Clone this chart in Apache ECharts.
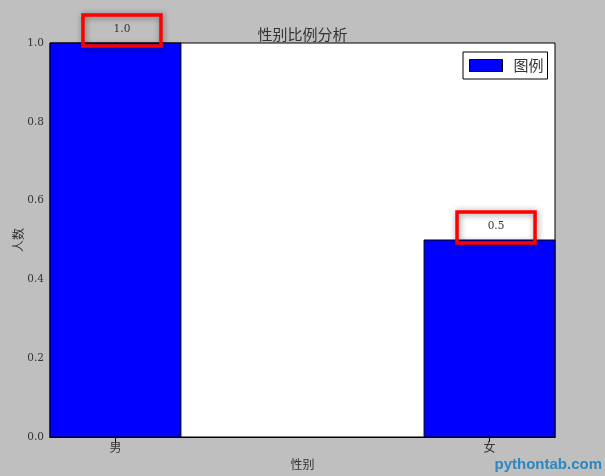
<!DOCTYPE html>
<html>
<head>
<meta charset="utf-8">
<script src="https://cdn.jsdelivr.net/npm/echarts@6/dist/echarts.min.js"></script>
<style>html,body{margin:0;padding:0;background:#bfbfbf;}#c{width:605px;height:476px;}</style>
</head>
<body>
<div id="c"></div>
<script>
const categories = ['男', '女'];
const categoryPositions = [0, 1];
const values = [1.0, 0.5];
const yTicks = [0, 0.2, 0.4, 0.6, 0.8, 1.0];
const seriesName = '图例';
const chartTitle = '性别比例分析';
const xName = '性别';
const yName = '人数';

const BAR_W = 0.35;
const serif = '"DejaVu Serif", "Noto Sans CJK SC", serif';
const cjk = '"Noto Sans CJK SC", sans-serif';
const txt = '#333';

const chart = echarts.init(document.getElementById('c'));
const data = categoryPositions.map((p, i) => [p, values[i]]);

const tickStyle = { show: true, inside: true, length: 5, lineStyle: { color: '#000', width: 1 } };

chart.setOption({
  backgroundColor: '#bfbfbf',
  animation: false,
  title: {
    text: chartTitle, left: 'center', top: 22,
    textStyle: { fontFamily: cjk, fontSize: 15, fontWeight: 'normal', color: txt }
  },
  legend: {
    data: [{ name: seriesName, icon: 'rect', itemStyle: { color: '#0000ff', borderColor: '#000', borderWidth: 1 } }],
    left: 463, top: 52,
    itemWidth: 33, itemHeight: 12, itemGap: 0, itemTextGap: 16,
    padding: [6, 4, 6, 6],
    borderColor: '#000', borderWidth: 1, backgroundColor: '#fff', borderRadius: 0,
    textStyle: { fontFamily: cjk, fontSize: 15, color: txt, padding: [0, 0, 0, 6] }
  },
  grid: {
    left: 50, right: 50, top: 43, bottom: 39,
    outerBoundsMode: 'none', containLabel: false,
    show: true, backgroundColor: '#fff', borderColor: '#000', borderWidth: 1
  },
  xAxis: [{
    type: 'value', min: -BAR_W / 2, max: 1 + BAR_W / 2,
    name: xName, nameLocation: 'middle', nameGap: 21, nameMoveOverlap: false,
    nameTextStyle: { fontFamily: cjk, fontSize: 12, color: txt },
    axisLine: { show: true, lineStyle: { color: '#000' } },
    axisTick: Object.assign({ customValues: categoryPositions }, tickStyle),
    axisLabel: {
      customValues: categoryPositions, margin: 4,
      formatter: v => categories[categoryPositions.indexOf(Math.round(v))] || '',
      fontFamily: cjk, fontSize: 12, color: txt
    },
    splitLine: { show: false }
  }, {
    type: 'value', position: 'top', min: -BAR_W / 2, max: 1 + BAR_W / 2,
    axisLine: { show: true, lineStyle: { color: '#000' } },
    axisTick: Object.assign({ customValues: categoryPositions }, tickStyle),
    axisLabel: { show: false }, splitLine: { show: false }
  }],
  yAxis: [{
    type: 'value', min: 0, max: 1, interval: 0.2,
    name: yName, nameLocation: 'middle', nameGap: 26, nameMoveOverlap: false,
    nameTextStyle: { fontFamily: cjk, fontSize: 12, color: txt },
    axisLine: { show: true, lineStyle: { color: '#000' } },
    axisTick: Object.assign({ customValues: yTicks }, tickStyle),
    axisLabel: { customValues: yTicks, formatter: v => v.toFixed(1), margin: 6, fontFamily: serif, fontSize: 10.5, color: txt },
    splitLine: { show: false }
  }, {
    type: 'value', position: 'right', min: 0, max: 1, interval: 0.2,
    axisLine: { show: true, lineStyle: { color: '#000' } },
    axisTick: Object.assign({ customValues: yTicks }, tickStyle),
    axisLabel: { show: false }, splitLine: { show: false }
  }],
  series: [{
    name: seriesName,
    type: 'custom',
    itemStyle: { color: '#0000ff' },
    data: data,
    encode: { x: 0, y: 1 },
    z: 1,
    renderItem: function (params, api) {
      const x = api.value(0), y = api.value(1);
      const tl = api.coord([x - BAR_W / 2, y]);
      const br = api.coord([x + BAR_W / 2, 0]);
      const cx = (tl[0] + br[0]) / 2 + 6.5;
      const ty = tl[1] - 14;
      const bw = 78, bh = 31;
      return {
        type: 'group',
        children: [
          { type: 'rect', shape: { x: tl[0], y: tl[1], width: br[0] - tl[0], height: br[1] - tl[1] },
            style: { fill: '#0000ff', stroke: '#000', lineWidth: 1 } },
          { type: 'rect', z2: 5, shape: { x: cx - bw / 2, y: ty - bh / 2 + 1.5, width: bw, height: bh },
            style: { fill: 'none', stroke: '#ff0000', lineWidth: 3.5, shadowBlur: 6, shadowColor: 'rgba(0,0,0,0.45)', shadowOffsetX: 1, shadowOffsetY: 1 } },
          { type: 'text', z2: 6, x: cx, y: ty,
            style: { text: y.toFixed(1), align: 'center', verticalAlign: 'middle', font: '10.5px ' + serif, fill: txt } }
        ]
      };
    }
  }],
  graphic: [{
    type: 'text', right: 3, bottom: 4,
    style: { text: 'pythontab.com', font: 'bold 15px "Liberation Sans", Arial, sans-serif', fill: '#2b87c2' }
  }]
});
</script>
</body>
</html>
